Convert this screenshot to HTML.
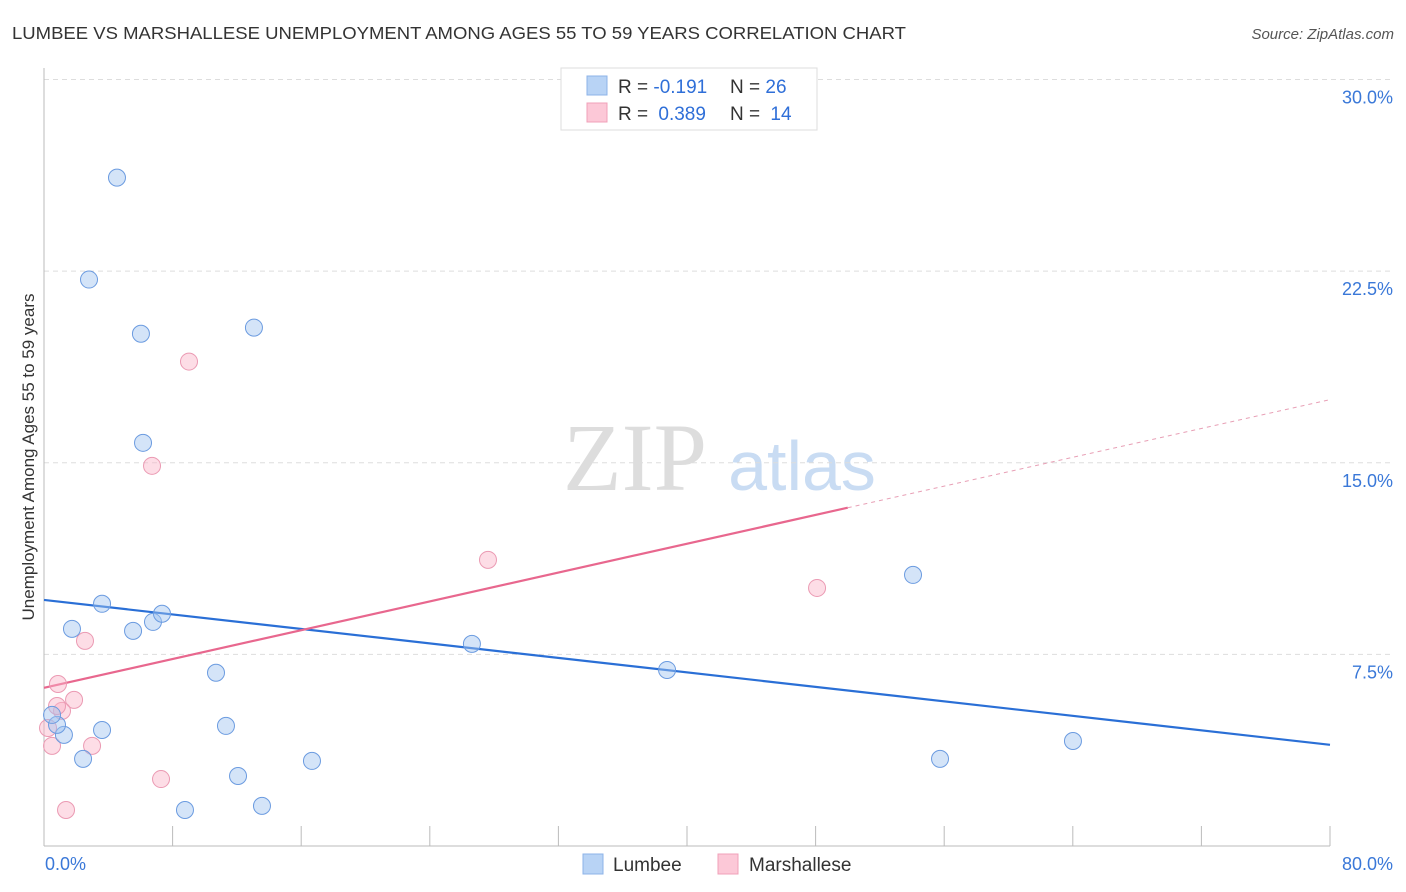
<!DOCTYPE html>
<html><head><meta charset="utf-8"><style>
body{margin:0;background:#fff;font-family:"Liberation Sans",sans-serif;}
svg{display:block}
</style></head><body>
<svg id="chart" width="1406" height="892" xmlns="http://www.w3.org/2000/svg">
<text x="12" y="39" font-size="17.5" fill="#333" textLength="894" lengthAdjust="spacingAndGlyphs">LUMBEE VS MARSHALLESE UNEMPLOYMENT AMONG AGES 55 TO 59 YEARS CORRELATION CHART</text>
<text x="1394" y="39" font-size="15" font-style="italic" fill="#555" text-anchor="end">Source: ZipAtlas.com</text>
<text transform="translate(34,457) rotate(-90)" font-size="17" fill="#333" text-anchor="middle">Unemployment Among Ages 55 to 59 years</text>
<g><text x="635" y="490" font-family="Liberation Serif,serif" font-size="96" fill="#ddd" text-anchor="middle">ZIP</text><text x="802" y="490" font-size="70" fill="#c9dcf3" text-anchor="middle">atlas</text></g>
<g id="grid"></g><g id="axes"></g><g id="trends"></g><g id="points"></g>
<g>
<rect x="561" y="68" width="256" height="62" fill="#fff" stroke="#ddd"/>
<rect x="587" y="76" width="20" height="19" fill="#b8d3f5" stroke="#8db3e8"/>
<rect x="587" y="103" width="20" height="19" fill="#fcc8d7" stroke="#f0a0b8"/>
<text x="618" y="93" font-size="19" fill="#333">R = <tspan fill="#2f6fd8">-0.191</tspan></text>
<text x="730" y="93" font-size="19" fill="#333">N = <tspan fill="#2f6fd8">26</tspan></text>
<text x="618" y="120" font-size="19" fill="#333">R = <tspan fill="#2f6fd8" dx="5">0.389</tspan></text>
<text x="730" y="120" font-size="19" fill="#333">N = <tspan fill="#2f6fd8" dx="5">14</tspan></text>
</g>
<g>
<rect x="583" y="854" width="20" height="20" fill="#b8d3f5" stroke="#8db3e8"/>
<text x="613" y="871" font-size="19" fill="#333">Lumbee</text>
<rect x="718" y="854" width="20" height="20" fill="#fcc8d7" stroke="#f0a0b8"/>
<text x="749" y="871" font-size="19" fill="#333">Marshallese</text>
</g>
</svg>
<script>
const yTicks=[7.5,15,22.5,30];
const yTickLabels=["7.5%","15.0%","22.5%","30.0%"];
const lumbeeX=[4.54,2.80,6.03,13.06,6.16,3.61,1.74,5.54,6.78,7.34,10.70,26.62,38.76,54.06,64.01,55.74,3.61,1.24,0.81,0.50,2.43,11.32,12.07,16.67,8.77,13.56];
const lumbeeY=[26.16,22.17,20.05,20.29,15.78,9.48,8.50,8.42,8.77,9.09,6.78,7.91,6.89,10.61,4.11,3.41,4.54,4.35,4.74,5.13,3.41,4.70,2.74,3.33,1.41,1.57];
const marshX=[9.02,6.72,27.62,48.09,2.55,0.87,1.87,1.12,0.81,2.99,0.50,7.28,1.37,0.25];
const marshY=[18.96,14.88,11.20,10.10,8.03,6.34,5.72,5.29,5.48,3.92,3.92,2.62,1.41,4.62];
const lumbeeTrend=[9.63,3.96];
const marshTrend=[6.19,17.47];
const NS="http://www.w3.org/2000/svg";
const X0=44,X1=1330,Y0=846,Ytop=79.5;
const sx=v=>X0+(v/80)*(X1-X0);
const sy=v=>Y0-(v/30)*(Y0-Ytop);
function mk(tag,attrs,parent){const e=document.createElementNS(NS,tag);for(const k in attrs)e.setAttribute(k,attrs[k]);document.getElementById(parent).appendChild(e);return e;}
yTicks.forEach((t,i)=>{
 const g=mk('line',{x1:X0,x2:1394,y1:sy(t),y2:sy(t),stroke:'#ddd','stroke-dasharray':'5,4'},'grid');
 
 
 const l=mk('text',{x:1393,y:sy(t)+24,'font-size':18,fill:'#3a78d8','text-anchor':'end'},'grid');
 l.textContent=yTickLabels[i];
 
 
});
const ax=mk('line',{x1:X0,x2:X0,y1:68,y2:Y0,stroke:'#bbb'},'axes');


const bx=mk('line',{x1:X0,x2:X1,y1:Y0,y2:Y0,stroke:'#bbb'},'axes');


for(let i=1;i<=10;i++){
 const t=mk('line',{x1:sx(i*8),x2:sx(i*8),y1:826,y2:Y0,stroke:'#bbb'},'axes');
 
 
}
const xl=mk('text',{x:45,y:870,'font-size':18,fill:'#3a78d8'},'axes');xl.textContent='0.0%';


const xr=mk('text',{x:1393,y:870,'font-size':18,fill:'#3a78d8','text-anchor':'end'},'axes');xr.textContent='80.0%';


const lt=mk('line',{x1:sx(0),y1:sy(lumbeeTrend[0]),x2:sx(80),y2:sy(lumbeeTrend[1]),stroke:'#2a6fd6','stroke-width':2.2},'trends');


const mid=marshTrend[0]+(marshTrend[1]-marshTrend[0])*50/80;
const mt=mk('line',{x1:sx(0),y1:sy(marshTrend[0]),x2:sx(50),y2:sy(mid),stroke:'#e8678e','stroke-width':2.2},'trends');


const md=mk('line',{x1:sx(50),y1:sy(mid),x2:sx(80),y2:sy(marshTrend[1]),stroke:'#e8a0b6','stroke-width':1,'stroke-dasharray':'4,4'},'trends');


marshX.forEach((x,i)=>{
 const c=mk('circle',{cx:sx(x),cy:sy(marshY[i]),r:8.5,fill:'rgba(250,180,200,0.45)',stroke:'#eb9ab3','stroke-width':1},'points');
 
 
});
lumbeeX.forEach((x,i)=>{
 const c=mk('circle',{cx:sx(x),cy:sy(lumbeeY[i]),r:8.5,fill:'rgba(160,195,240,0.45)',stroke:'#6b9be0','stroke-width':1},'points');
 
 
});
</script>
</body></html>
